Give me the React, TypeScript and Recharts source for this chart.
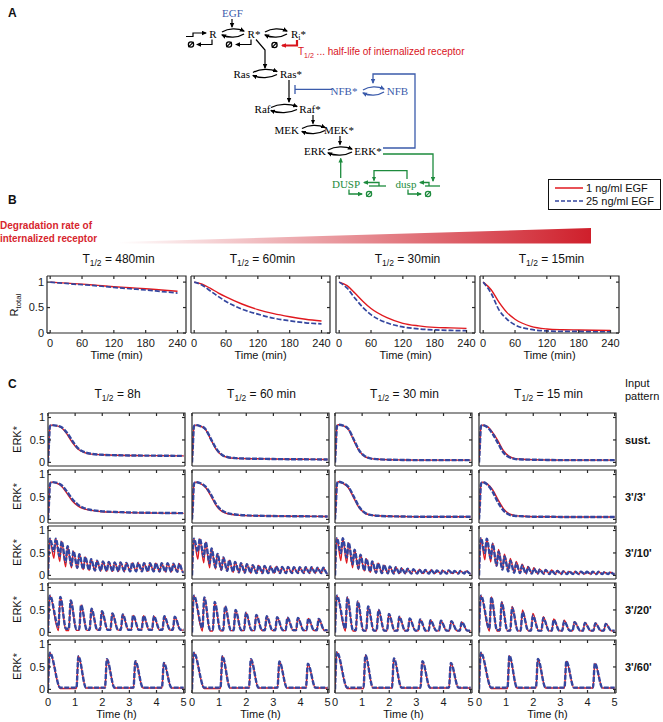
import React from 'react';
import { LineChart, Line, XAxis, YAxis } from 'recharts';

const RED = '#e0191f';
const BLUE = '#34469f';
const AXIS = '#2a2a2a';
const SANS = '"Liberation Sans", Arial, sans-serif';
const SERIF = '"Liberation Serif", "Times New Roman", serif';
const D_BLUE = '#3b5bab';
const D_GREEN = '#1d8b3d';
const D_RED = '#d9141c';

// ---------- panel B: total receptor ----------
const bHalfLives = ['480min', '60min', '30min', '15min'];
const bTicks = [0, 60, 120, 180, 240];
const bTime = [0, 15, 30, 45, 60, 90, 120, 150, 180, 210, 240];
const bRed = [
  [1, 0.99, 0.98, 0.97, 0.96, 0.935, 0.91, 0.89, 0.87, 0.845, 0.82],
  [1, 0.96, 0.88, 0.79, 0.71, 0.57, 0.46, 0.38, 0.32, 0.27, 0.235],
  [1, 0.93, 0.78, 0.62, 0.48, 0.3, 0.19, 0.14, 0.11, 0.1, 0.09],
  [1, 0.85, 0.6, 0.4, 0.27, 0.13, 0.08, 0.065, 0.06, 0.055, 0.05],
];
const bBlue = [
  [1, 0.985, 0.975, 0.96, 0.95, 0.925, 0.895, 0.87, 0.845, 0.815, 0.785],
  [1, 0.94, 0.83, 0.72, 0.62, 0.47, 0.37, 0.29, 0.24, 0.2, 0.18],
  [1, 0.88, 0.68, 0.5, 0.36, 0.2, 0.12, 0.08, 0.06, 0.05, 0.045],
  [1, 0.78, 0.45, 0.27, 0.16, 0.07, 0.04, 0.03, 0.03, 0.025, 0.025],
];

// ---------- panel C: ERK* ----------
const cHalfLives = ['8h', '60 min', '30 min', '15 min'];
const cPatterns = ['sust.', "3'/3'", "3'/10'", "3'/20'", "3'/60'"];
const cTicks = [0, 1, 2, 3, 4, 5];
const yTicks = [0, 0.5, 1];

// sustained and 3'/3' rows
const sTime = [0, 0.03, 0.07, 0.12, 0.3, 0.5, 0.7, 0.9, 1.1, 1.3, 1.6, 2, 2.5, 3, 4, 5];
const sustBlue = [
  [0, 0.35, 0.8, 0.83, 0.82, 0.78, 0.66, 0.48, 0.32, 0.24, 0.19, 0.17, 0.16, 0.155, 0.15, 0.145],
  [0, 0.35, 0.8, 0.83, 0.81, 0.74, 0.52, 0.3, 0.17, 0.12, 0.095, 0.085, 0.08, 0.075, 0.07, 0.065],
  [0, 0.35, 0.8, 0.84, 0.82, 0.74, 0.5, 0.26, 0.14, 0.09, 0.07, 0.06, 0.055, 0.05, 0.05, 0.05],
  [0, 0.35, 0.8, 0.83, 0.79, 0.64, 0.43, 0.22, 0.12, 0.08, 0.065, 0.06, 0.055, 0.05, 0.05, 0.05],
];
const sustRed = [
  [0, 0.35, 0.8, 0.83, 0.82, 0.77, 0.63, 0.44, 0.3, 0.23, 0.185, 0.17, 0.16, 0.155, 0.15, 0.145],
  [0, 0.35, 0.8, 0.83, 0.81, 0.73, 0.5, 0.28, 0.16, 0.115, 0.09, 0.085, 0.08, 0.075, 0.07, 0.065],
  [0, 0.35, 0.8, 0.84, 0.82, 0.73, 0.48, 0.25, 0.13, 0.09, 0.07, 0.06, 0.055, 0.05, 0.05, 0.05],
  [0, 0.35, 0.8, 0.83, 0.8, 0.67, 0.48, 0.26, 0.14, 0.09, 0.07, 0.06, 0.055, 0.05, 0.05, 0.05],
];
const p3Blue = [
  [0, 0.3, 0.78, 0.83, 0.82, 0.76, 0.62, 0.45, 0.33, 0.26, 0.21, 0.18, 0.165, 0.155, 0.145, 0.14],
  [0, 0.3, 0.78, 0.83, 0.81, 0.73, 0.55, 0.33, 0.2, 0.14, 0.11, 0.09, 0.08, 0.075, 0.07, 0.065],
  [0, 0.3, 0.78, 0.84, 0.81, 0.72, 0.5, 0.27, 0.15, 0.1, 0.08, 0.07, 0.065, 0.06, 0.06, 0.06],
  [0, 0.3, 0.78, 0.83, 0.78, 0.62, 0.38, 0.2, 0.11, 0.08, 0.07, 0.06, 0.06, 0.055, 0.055, 0.055],
];
const p3Red = [
  [0, 0.3, 0.78, 0.83, 0.81, 0.74, 0.58, 0.41, 0.3, 0.24, 0.2, 0.17, 0.16, 0.15, 0.14, 0.135],
  [0, 0.3, 0.78, 0.83, 0.8, 0.71, 0.52, 0.3, 0.18, 0.13, 0.1, 0.085, 0.08, 0.075, 0.07, 0.065],
  [0, 0.3, 0.78, 0.84, 0.8, 0.7, 0.47, 0.25, 0.14, 0.1, 0.08, 0.07, 0.065, 0.06, 0.06, 0.06],
  [0, 0.3, 0.78, 0.83, 0.79, 0.66, 0.44, 0.24, 0.13, 0.09, 0.07, 0.06, 0.06, 0.055, 0.055, 0.055],
];

// pulsed rows: 3 min on, then 10 / 20 / 60 min off (period in hours)
const period10 = 13 / 60;
const period20 = 23 / 60;
const period60 = 63 / 60;

const p10PeakBlue = [
  [0.82, 0.82, 0.76, 0.65, 0.54, 0.47, 0.41, 0.36, 0.33, 0.31, 0.3, 0.29, 0.29, 0.28, 0.28, 0.28, 0.27, 0.27, 0.27, 0.27, 0.27, 0.26, 0.26],
  [0.82, 0.82, 0.74, 0.6, 0.48, 0.4, 0.34, 0.3, 0.27, 0.25, 0.23, 0.22, 0.21, 0.2, 0.2, 0.19, 0.19, 0.18, 0.18, 0.18, 0.18, 0.17, 0.17],
  [0.83, 0.83, 0.73, 0.57, 0.46, 0.37, 0.31, 0.27, 0.23, 0.2, 0.18, 0.16, 0.15, 0.14, 0.13, 0.12, 0.12, 0.11, 0.11, 0.11, 0.1, 0.1, 0.1],
  [0.83, 0.82, 0.7, 0.53, 0.42, 0.33, 0.27, 0.22, 0.18, 0.15, 0.13, 0.12, 0.11, 0.1, 0.09, 0.09, 0.08, 0.08, 0.08, 0.08, 0.08, 0.07, 0.07],
];
const p10PeakRed = [
  p10PeakBlue[0],
  p10PeakBlue[1],
  p10PeakBlue[2],
  [0.83, 0.82, 0.72, 0.58, 0.47, 0.38, 0.31, 0.25, 0.2, 0.17, 0.14, 0.13, 0.12, 0.11, 0.1, 0.09, 0.09, 0.08, 0.08, 0.08, 0.08, 0.07, 0.07],
];
const p10TroughBlue = [
  [0.54, 0.43, 0.3, 0.22, 0.17, 0.14, 0.12, 0.11, 0.1, 0.1, 0.09, 0.09, 0.09, 0.09, 0.09, 0.09, 0.09, 0.09, 0.09, 0.08, 0.08, 0.08, 0.07],
  [0.53, 0.42, 0.27, 0.18, 0.13, 0.1, 0.08, 0.07, 0.06, 0.06, 0.05, 0.05, 0.05, 0.05, 0.05, 0.05, 0.05, 0.05, 0.05, 0.05, 0.05, 0.05, 0.04],
  [0.5, 0.4, 0.25, 0.16, 0.11, 0.08, 0.06, 0.05, 0.045, 0.04, 0.04, 0.04, 0.04, 0.04, 0.04, 0.04, 0.04, 0.04, 0.04, 0.04, 0.04, 0.04, 0.04],
  [0.5, 0.38, 0.22, 0.13, 0.09, 0.06, 0.05, 0.04, 0.04, 0.035, 0.035, 0.03, 0.03, 0.03, 0.03, 0.03, 0.03, 0.03, 0.03, 0.03, 0.03, 0.03, 0.03],
];
const p10TroughRed = [
  [0.38, 0.31, 0.19, 0.17, 0.15, 0.13, 0.11, 0.1, 0.1, 0.09, 0.09, 0.09, 0.09, 0.09, 0.09, 0.09, 0.09, 0.09, 0.08, 0.08, 0.08, 0.08, 0.07],
  [0.36, 0.28, 0.17, 0.14, 0.11, 0.09, 0.07, 0.06, 0.06, 0.05, 0.05, 0.05, 0.05, 0.05, 0.05, 0.05, 0.05, 0.05, 0.05, 0.05, 0.05, 0.05, 0.04],
  [0.33, 0.27, 0.17, 0.13, 0.1, 0.07, 0.05, 0.045, 0.04, 0.04, 0.04, 0.04, 0.04, 0.04, 0.04, 0.04, 0.04, 0.04, 0.04, 0.04, 0.04, 0.04, 0.04],
  [0.35, 0.3, 0.2, 0.14, 0.1, 0.07, 0.05, 0.045, 0.04, 0.035, 0.035, 0.03, 0.03, 0.03, 0.03, 0.03, 0.03, 0.03, 0.03, 0.03, 0.03, 0.03, 0.03],
];

const p20PeakBlue = [
  [0.82, 0.79, 0.71, 0.61, 0.53, 0.47, 0.42, 0.4, 0.38, 0.37, 0.36, 0.36, 0.35],
  [0.82, 0.78, 0.68, 0.58, 0.5, 0.44, 0.39, 0.36, 0.34, 0.33, 0.32, 0.31, 0.3],
  [0.82, 0.78, 0.69, 0.58, 0.5, 0.41, 0.35, 0.31, 0.29, 0.27, 0.26, 0.25, 0.23],
  [0.82, 0.78, 0.66, 0.55, 0.45, 0.37, 0.32, 0.28, 0.25, 0.23, 0.21, 0.2, 0.19],
];
const p20PeakRed = [
  p20PeakBlue[0],
  p20PeakBlue[1],
  p20PeakBlue[2],
  [0.82, 0.79, 0.69, 0.58, 0.5, 0.42, 0.35, 0.3, 0.27, 0.24, 0.22, 0.21, 0.2],
];
const p20TroughBlue = [
  [0.12, 0.08, 0.07, 0.06, 0.06, 0.06, 0.06, 0.06, 0.06, 0.06, 0.06, 0.06, 0.06],
  [0.1, 0.06, 0.05, 0.05, 0.05, 0.05, 0.05, 0.05, 0.05, 0.05, 0.05, 0.05, 0.05],
  [0.09, 0.05, 0.04, 0.04, 0.04, 0.04, 0.04, 0.04, 0.04, 0.04, 0.04, 0.04, 0.04],
  [0.08, 0.05, 0.04, 0.04, 0.04, 0.04, 0.04, 0.04, 0.04, 0.04, 0.04, 0.04, 0.04],
];
const p20TroughRed = [
  [0.04, 0.04, 0.045, 0.045, 0.05, 0.05, 0.05, 0.05, 0.05, 0.05, 0.05, 0.05, 0.05],
  [0.03, 0.03, 0.035, 0.04, 0.04, 0.04, 0.04, 0.04, 0.04, 0.04, 0.04, 0.04, 0.04],
  [0.03, 0.03, 0.035, 0.035, 0.035, 0.035, 0.035, 0.035, 0.035, 0.035, 0.035, 0.035, 0.035],
  [0.03, 0.03, 0.035, 0.035, 0.035, 0.035, 0.035, 0.035, 0.035, 0.035, 0.035, 0.035, 0.035],
];

const p60PeakBlue = [
  [0.82, 0.74, 0.67, 0.63, 0.59],
  [0.82, 0.74, 0.67, 0.62, 0.57],
  [0.83, 0.76, 0.69, 0.63, 0.59],
  [0.82, 0.75, 0.68, 0.63, 0.58],
];
const p60TroughBlue = [0.04, 0.04, 0.04, 0.04, 0.04];
const p60TroughRed = [0.02, 0.03, 0.03, 0.03, 0.03];

type Pt = { t: number; red: number; blue: number };

function gridRows(time: number[], red: number[], blue: number[]): Pt[] {
  return time.map((t, i) => ({ t, red: red[i], blue: blue[i] }));
}

// one vertex at each pulse peak and trough, timed by the input pattern
function pulseRows(
  period: number, fall: number, firstFall: number,
  pb: number[], tb: number[], pr: number[], tr: number[],
): Pt[] {
  const rows: Pt[] = [{ t: 0, red: 0, blue: 0 }];
  for (let k = 0; k < pb.length; k++) {
    const s = k * period;
    const prev = rows[rows.length - 1];
    if (k > 0 && s - prev.t > 0.01) rows.push({ t: s, red: prev.red, blue: prev.blue });
    rows.push({ t: s + 0.07, red: pr[k], blue: pb[k] });
    rows.push({ t: Math.min(s + (k === 0 ? firstFall : fall), 5), red: tr[k], blue: tb[k] });
  }
  const last = rows[rows.length - 1];
  if (last.t < 4.99) rows.push({ t: 5, red: last.red, blue: last.blue });
  return rows;
}

function cData(row: number, col: number): Pt[] {
  if (row === 0) return gridRows(sTime, sustRed[col], sustBlue[col]);
  if (row === 1) return gridRows(sTime, p3Red[col], p3Blue[col]);
  if (row === 2)
    return pulseRows(period10, period10, period10, p10PeakBlue[col], p10TroughBlue[col], p10PeakRed[col], p10TroughRed[col]);
  if (row === 3)
    return pulseRows(period20, 0.28, period20, p20PeakBlue[col], p20TroughBlue[col], p20PeakRed[col], p20TroughRed[col]);
  return pulseRows(period60, 0.35, 0.45, p60PeakBlue[col], p60TroughBlue, p60PeakBlue[col], p60TroughRed);
}

// layout of the small axes boxes (page pixels)
const bLefts = [47, 191, 336, 480];
const bTop = 276;
const bW = 139;
const bH = 57;
const bX: [number, number] = [-6, 256];
const bY: [number, number] = [0, 1.12];
const cLefts = [48, 192, 335, 479];
const cTops = [413, 470, 526, 583, 640];
const cW = 137;
const cH = 53;
const cX: [number, number] = [0, 5.05];
const cY: [number, number] = [-0.08, 1.1];

type MiniProps = {
  left: number; top: number; w: number; h: number; data: Pt[];
  xDomain: [number, number]; xTicks: number[]; yDomain: [number, number];
  xLabels: boolean; yLabels: boolean; redW: number; blueW: number; dash: string; xMargin: number;
};

function Mini(p: MiniProps) {
  const ML = 34, MT = 3, MR = 3, MB = 22;
  const tickStyle = { fontSize: 11, fill: '#1a1a1a', fontFamily: SANS };
  return (
    <div style={{ position: 'absolute', left: p.left - ML, top: p.top - MT }}>
      <LineChart width={p.w + ML + MR} height={p.h + MT + MB} data={p.data} margin={{ top: MT, right: MR, bottom: 0, left: 0 }}>
        <XAxis dataKey="t" type="number" domain={p.xDomain} ticks={p.xTicks} allowDataOverflow height={MB}
          tickSize={-3} tickMargin={p.xMargin} tick={p.xLabels ? tickStyle : false} stroke={AXIS} strokeWidth={1.2} interval={0} />
        <YAxis type="number" domain={p.yDomain} ticks={yTicks} allowDataOverflow width={ML}
          tickSize={-3} tickMargin={6} tick={p.yLabels ? tickStyle : false} stroke={AXIS} strokeWidth={1.2} interval={0} />
        <Line type="monotone" dataKey="red" stroke={RED} strokeWidth={p.redW} dot={false} isAnimationActive={false} />
        <Line type="monotone" dataKey="blue" stroke={BLUE} strokeWidth={p.blueW} strokeDasharray={p.dash}
          dot={false} isAnimationActive={false} />
      </LineChart>
    </div>
  );
}

// closing top / right sides of a box, with the mirrored inward ticks
function BoxFrame({ left, top, w, h, xDomain, xTicks, yDomain }: {
  left: number; top: number; w: number; h: number; xDomain: [number, number]; xTicks: number[]; yDomain: [number, number];
}) {
  const sx = (v: number) => left + ((v - xDomain[0]) / (xDomain[1] - xDomain[0])) * w;
  const sy = (v: number) => top + ((yDomain[1] - v) / (yDomain[1] - yDomain[0])) * h;
  return (
    <g stroke={AXIS} strokeWidth={1.2} fill="none">
      <path d={`M${left},${top} L${left + w},${top} L${left + w},${top + h}`} />
      {xTicks.map((t) => <line key={'x' + t} x1={sx(t)} x2={sx(t)} y1={top} y2={top + 3} />)}
      {yTicks.map((v) => <line key={'y' + v} x1={left + w} x2={left + w - 3} y1={sy(v)} y2={sy(v)} />)}
    </g>
  );
}

function Marker({ id, color }: { id: string; color: string }) {
  return (
    <marker id={id} viewBox="0 0 10 10" refX="8" refY="5" markerWidth="5" markerHeight="5" markerUnits="userSpaceOnUse" orient="auto">
      <path d="M0,0.5 L10,5 L0,9.5 z" fill={color} />
    </marker>
  );
}

function Arrow({ d, c = '#000', w = 1.2, m = 'k' }: { d: string; c?: string; w?: number; m?: string }) {
  return <path d={d} fill="none" stroke={c} strokeWidth={w} markerEnd={`url(#ah-${m})`} />;
}

function Cycle({ x1, x2, y, c = '#000', m = 'k' }: { x1: number; x2: number; y: number; c?: string; m?: string }) {
  const a = (x2 - x1) * 0.3;
  return (
    <g>
      <path d={`M${x1},${y - 1} C${x1 + a},${y - 5} ${x2 - a},${y - 5} ${x2},${y - 2}`} fill="none" stroke={c} strokeWidth={1.4} markerEnd={`url(#ah-${m})`} />
      <path d={`M${x2},${y + 1} C${x2 - a},${y + 5} ${x1 + a},${y + 5} ${x1},${y + 2}`} fill="none" stroke={c} strokeWidth={1.4} markerEnd={`url(#ah-${m})`} />
    </g>
  );
}

function Null({ x, y, c = '#000' }: { x: number; y: number; c?: string }) {
  return (
    <g>
      <circle cx={x} cy={y} r={2.6} fill="none" stroke={c} strokeWidth={1.3} />
      <line x1={x - 2.6} y1={y + 2.6} x2={x + 2.6} y2={y - 2.6} stroke={c} strokeWidth={1.3} />
    </g>
  );
}

function Sp({ x, y, c = '#000', children, anchor = 'middle' }: { x: number; y: number; c?: string; children: React.ReactNode; anchor?: string }) {
  return (
    <text x={x} y={y} textAnchor={anchor as any} fontFamily={SERIF} fontSize={11} fill={c}>{children}</text>
  );
}

function Title({ cx, y, label }: { cx: number; y: number; label: string }) {
  return (
    <text x={cx} y={y} textAnchor="middle" fontSize={12} fontFamily={SANS} fill="#111">
      T<tspan fontSize={8.5} dy={3}>1/2</tspan><tspan dy={-3}>{' = ' + label}</tspan>
    </text>
  );
}

function Diagram() {
  return (
    <g>
      <Sp x={232.5} y={16.5} c={D_BLUE}>EGF</Sp>
      <Arrow d="M232,19 L232,27" />
      <Sp x={213} y={37.5}>R</Sp>
      <Sp x={254} y={37.5}>R*</Sp>
      <text x={291} y={37.5} fontFamily={SERIF} fontSize={11} fill="#000">
        R<tspan fontSize={8} dy={2.5}>i</tspan><tspan dy={-2.5}>*</tspan>
      </text>
      <Arrow d="M186,36.5 L193,36.5 L193,33 L206,33" />
      <Cycle x1={222} x2={244} y={33} />
      <Cycle x1={265} x2={287} y={33} />
      <Arrow d="M212,39.5 L212,44.5 L197,44.5" />
      <Null x={191} y={44.5} />
      <Arrow d="M251,39.5 L251,44.5 L236,44.5" />
      <Null x={229} y={44.5} />
      <Arrow d="M297,40 L297,45.5 L282,45.5" c={D_RED} w={2.2} m="r" />
      <Null x={274.5} y={45} />
      <text x={298} y={55} fontFamily={SANS} fontSize={10} fill={D_RED}>
        T<tspan fontSize={7} dy={2.5}>1/2</tspan><tspan dy={-2.5}>{'  ... half-life of internalized receptor'}</tspan>
      </text>
      <Arrow d="M256,39.5 L265,50 L265,68" />
      <Sp x={241.7} y={77.5}>Ras</Sp>
      <Sp x={291} y={77.5}>Ras*</Sp>
      <Cycle x1={253} x2={277} y={73.5} />
      <Arrow d="M289,80 L289,102" />
      <path d="M332,89.3 L295,89.3 M295,85 L295,94" stroke={D_BLUE} strokeWidth={1.3} fill="none" />
      <Sp x={344} y={95} c={D_BLUE}>NFB*</Sp>
      <Sp x={397.5} y={95} c={D_BLUE}>NFB</Sp>
      <Cycle x1={363} x2={384} y={91} c={D_BLUE} m="b" />
      <Arrow d="M383,148 L415,148 L415,74 L373,74 L373,83" c={D_BLUE} w={1.3} m="b" />
      <Sp x={262.5} y={112.5}>Raf</Sp>
      <Sp x={310} y={112.5}>Raf*</Sp>
      <Cycle x1={271} x2={297} y={108.5} />
      <Arrow d="M313,115 L313,123.5" />
      <Sp x={286.7} y={133.5}>MEK</Sp>
      <Sp x={339} y={133.5}>MEK*</Sp>
      <Cycle x1={302} x2={325} y={129.5} />
      <Arrow d="M340,136 L340,144.5" />
      <Sp x={315} y={155}>ERK</Sp>
      <Sp x={368} y={155}>ERK*</Sp>
      <Cycle x1={328} x2={352} y={151} />
      <Arrow d="M383,154 L433,154 L433,181" c={D_GREEN} w={1.3} m="g" />
      <Arrow d="M340.7,178 L340.7,158.5" c={D_GREEN} w={1.3} m="g" />
      <Sp x={346} y={187.5} c={D_GREEN}>DUSP</Sp>
      <Sp x={406} y={187.5} c={D_GREEN}>dusp</Sp>
      <Arrow d="M407,179 L407,170.7 L374,170.7 L374,180.5" c={D_GREEN} w={1.3} m="g" />
      <path d="M369,186 L386,186" stroke={D_GREEN} strokeWidth={1.3} />
      <Arrow d="M379,186 L379,182.5 L364,182.5" c={D_GREEN} w={1.3} m="g" />
      <path d="M425,186 L440,186" stroke={D_GREEN} strokeWidth={1.3} />
      <Arrow d="M429,186 L429,182.5 L420,182.5" c={D_GREEN} w={1.3} m="g" />
      <Arrow d="M349,189.5 L349,194 L362,194" c={D_GREEN} w={1.3} m="g" />
      <Null x={369} y={194} c={D_GREEN} />
      <Arrow d="M408,189.5 L408,194 L421,194" c={D_GREEN} w={1.3} m="g" />
      <Null x={428} y={194} c={D_GREEN} />
    </g>
  );
}

export default function App() {
  return (
    <div style={{ position: 'absolute', left: 0, top: 0, width: 663, height: 722, background: '#fff', overflow: 'hidden' }}>
      {bHalfLives.map((_, c) => (
        <Mini key={'b' + c} left={bLefts[c]} top={bTop} w={bW} h={bH} data={gridRows(bTime, bRed[c], bBlue[c])}
          xDomain={bX} xTicks={bTicks} yDomain={bY} xLabels yLabels={c === 0}
          redW={1.4} blueW={1.7} dash="5 2" xMargin={9} />
      ))}
      {cPatterns.map((_, r) =>
        cHalfLives.map((__, c) => (
          <Mini key={'c' + r + c} left={cLefts[c]} top={cTops[r]} w={cW} h={cH} data={cData(r, c)}
            xDomain={cX} xTicks={cTicks} yDomain={cY} xLabels={r === 4} yLabels={c === 0}
            redW={1.4} blueW={2.4} dash="5 1.5" xMargin={8} />
        )),
      )}
      <svg width={663} height={722} style={{ position: 'absolute', left: 0, top: 0, pointerEvents: 'none' }}>
        <defs>
          <Marker id="ah-k" color="#000" />
          <Marker id="ah-r" color={D_RED} />
          <Marker id="ah-b" color={D_BLUE} />
          <Marker id="ah-g" color={D_GREEN} />
          <linearGradient id="degGrad" x1="118" y1="0" x2="591" y2="0" gradientUnits="userSpaceOnUse">
            <stop offset="0" stopColor="#ffffff" />
            <stop offset="1" stopColor="#cf1f2b" />
          </linearGradient>
        </defs>
        <g fontFamily={SANS} fontWeight="bold" fontSize={12} fill="#111">
          <text x={8} y={17}>A</text>
          <text x={8} y={204}>B</text>
          <text x={8} y={388}>C</text>
        </g>
        <Diagram />

        {/* legend */}
        <rect x={548.5} y={179.5} width={112} height={30} fill="#fff" stroke="#111" strokeWidth={1} />
        <line x1={555} y1={188} x2={583} y2={188} stroke={RED} strokeWidth={1.5} />
        <line x1={555} y1={201} x2={583} y2={201} stroke={BLUE} strokeWidth={1.5} strokeDasharray="4 2" />
        <text x={586} y={192} fontFamily={SANS} fontSize={11} fill="#111">1 ng/ml EGF</text>
        <text x={586} y={205} fontFamily={SANS} fontSize={11} fill="#111">25 ng/ml EGF</text>

        {/* degradation gradient */}
        <text x={0} y={229} fontFamily={SANS} fontWeight="bold" fontSize={10} fill="#d7262e" textLength={92} lengthAdjust="spacingAndGlyphs">Degradation rate of</text>
        <text x={0} y={242} fontFamily={SANS} fontWeight="bold" fontSize={10} fill="#d7262e" textLength={97} lengthAdjust="spacingAndGlyphs">internalized receptor</text>
        <polygon points="118,242 591,228 591,243.5 118,243.5" fill="url(#degGrad)" />

        {/* panel B text and frames */}
        {bHalfLives.map((h, c) => (
          <g key={'bt' + c}>
            <BoxFrame left={bLefts[c]} top={bTop} w={bW} h={bH} xDomain={bX} xTicks={bTicks} yDomain={bY} />
            <Title cx={bLefts[c] + bW / 2 + 2} y={263} label={h} />
            <text x={bLefts[c] + bW / 2} y={359} textAnchor="middle" fontFamily={SANS} fontSize={11} fill="#111">Time (min)</text>
          </g>
        ))}
        <text transform="translate(18,305) rotate(-90)" textAnchor="middle" fontFamily={SANS} fontSize={11} fill="#111">
          R<tspan fontSize={8} dy={3}>total</tspan>
        </text>

        {/* panel C text and frames */}
        {cPatterns.map((_, r) =>
          cHalfLives.map((__, c) => (
            <BoxFrame key={'cf' + r + c} left={cLefts[c]} top={cTops[r]} w={cW} h={cH} xDomain={cX} xTicks={cTicks} yDomain={cY} />
          )),
        )}
        {cHalfLives.map((h, c) => (
          <g key={'ct' + c}>
            <Title cx={cLefts[c] + cW / 2 + 1} y={398} label={h} />
            <text x={cLefts[c] + cW / 2} y={718} textAnchor="middle" fontFamily={SANS} fontSize={11} fill="#111">Time (h)</text>
          </g>
        ))}
        <text x={625} y={387} fontFamily={SANS} fontSize={11} fill="#111">Input</text>
        <text x={625} y={400} fontFamily={SANS} fontSize={11} fill="#111">pattern</text>
        {cPatterns.map((p, r) => (
          <g key={'cr' + r}>
            <text x={625} y={cTops[r] + cH / 2 + 4} fontFamily={SANS} fontWeight="bold" fontSize={11} fill="#111">{p}</text>
            <text transform={`translate(21,${cTops[r] + cH / 2}) rotate(-90)`} textAnchor="middle" fontFamily={SANS} fontSize={11} fill="#111">ERK*</text>
          </g>
        ))}
      </svg>
    </div>
  );
}
